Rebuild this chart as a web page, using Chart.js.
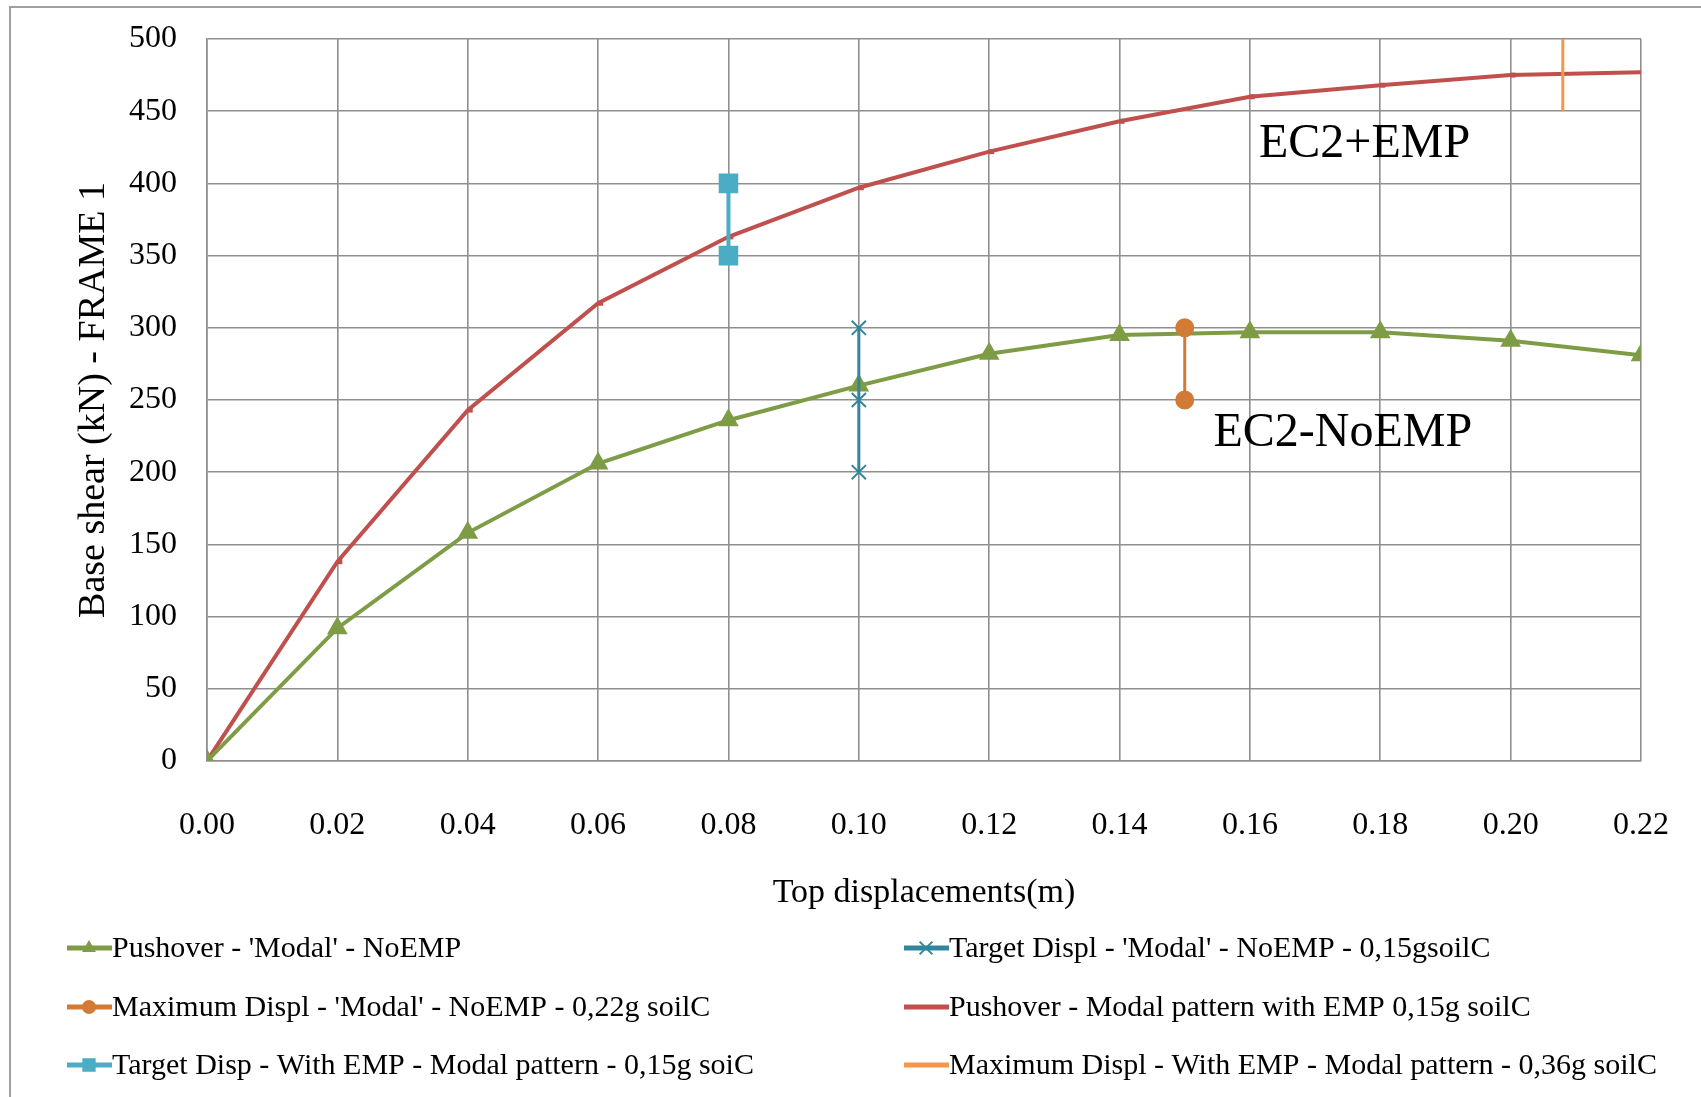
<!DOCTYPE html>
<html lang="en">
<head>
<meta charset="utf-8">
<title>Pushover curves - FRAME 1</title>
<script src="https://cdn.jsdelivr.net/npm/chart.js"></script>
<style>
  body { margin: 0; background: #fff; }
  #wrap { position: relative; width: 1701px; height: 1097px; overflow: hidden; }
  #frame { position: absolute; left: 9px; top: 6px; width: 1800px; height: 1200px;
           border-left: 2px solid #a0a0a0; border-top: 2px solid #a0a0a0; }
  canvas { position: absolute; left: 0; top: 0; }
</style>
</head>
<body>
<div id="wrap">
  <div id="frame"></div>
  <canvas id="pushoverChart" width="1701" height="1097"></canvas>
</div>
<script>
// top displacement steps (m)
const displ = [0, 0.02, 0.04, 0.06, 0.08, 0.10, 0.12, 0.14, 0.16, 0.18, 0.20, 0.22];
// base shear (kN)
const pushNoEmp = [0, 92, 158, 206, 236, 260, 282, 295, 297, 297, 291, 281];
const pushEmp = [0, 138, 243, 317, 363, 397, 422, 443, 460, 468, 475, 477];

// vertical markers
const targetNoEmpX = [0.10, 0.10, 0.10];
const targetNoEmpY = [200, 250, 300];
const maxNoEmpX = [0.15, 0.15];
const maxNoEmpY = [250, 300];
const targetEmpX = [0.08, 0.08];
const targetEmpY = [350, 400];
const maxEmpX = [0.208, 0.208];
const maxEmpY = [450, 500];

const xTicks = [0, 0.02, 0.04, 0.06, 0.08, 0.10, 0.12, 0.14, 0.16, 0.18, 0.20, 0.22];

// curve labels inside the plot
const noteText = ['EC2+EMP', 'EC2-NoEMP'];
const noteX = [0.1614, 0.1544];
const noteY = [427, 227];

const legendColX = [67, 904];
const legendRowY = [948, 1007, 1065];

const serif = '"Liberation Serif", "Times New Roman", serif';
const gridColor = '#8f8f8f';

const pts = (xs, ys) => xs.map((x, i) => ({ x: x, y: ys[i] }));

const legendPlugin = {
    id: 'twoColLegend',
    afterDraw(chart) {
        const ctx = chart.ctx;
        ctx.save();
        ctx.font = '30px ' + serif;
        ctx.textBaseline = 'middle';
        ctx.textAlign = 'left';
        chart.data.datasets.forEach((ds, i) => {
            const x0 = legendColX[i % 2];
            const y0 = legendRowY[Math.floor(i / 2)];
            ctx.strokeStyle = ds.borderColor;
            ctx.lineWidth = 5;
            ctx.beginPath();
            ctx.moveTo(x0, y0);
            ctx.lineTo(x0 + 45, y0);
            ctx.stroke();
            if (ds.legendMarker) {
                ctx.fillStyle = ds.pointBackgroundColor;
                ctx.strokeStyle = ds.pointBorderColor;
                ctx.lineWidth = 2;
                Chart.helpers.drawPoint(ctx, {
                    pointStyle: ds.pointStyle, radius: ds.legendMarker,
                    borderWidth: 2, rotation: 0
                }, x0 + 22, y0);
            }
            ctx.fillStyle = '#000';
            ctx.fillText(ds.label, x0 + 45, y0 + 1);
        });
        ctx.restore();
    }
};

const notesPlugin = {
    id: 'curveNotes',
    afterDatasetsDraw(chart) {
        const ctx = chart.ctx;
        const xs = chart.scales.x, ys = chart.scales.y;
        ctx.save();
        ctx.font = '48px ' + serif;
        ctx.fillStyle = '#000';
        ctx.textBaseline = 'middle';
        ctx.textAlign = 'left';
        noteText.forEach((t, i) => {
            ctx.fillText(t, xs.getPixelForValue(noteX[i]), ys.getPixelForValue(noteY[i]));
        });
        ctx.restore();
    }
};

const ctx = document.getElementById('pushoverChart').getContext('2d');
new Chart(ctx, {
    type: 'scatter',
    data: {
        datasets: [
            {
                label: "Pushover - 'Modal' - NoEMP",
                data: pts(displ, pushNoEmp),
                showLine: true,
                borderColor: '#7e9c45',
                backgroundColor: '#7e9c45',
                pointBackgroundColor: '#7e9c45',
                pointBorderColor: '#7e9c45',
                borderWidth: 4,
                pointStyle: 'triangle',
                pointRadius: 8,
                legendMarker: 6,
                order: 2
            },
            {
                label: "Target Displ - 'Modal' - NoEMP - 0,15gsoilC",
                data: pts(targetNoEmpX, targetNoEmpY),
                showLine: true,
                borderColor: '#31869d',
                backgroundColor: '#31869d',
                pointBackgroundColor: '#31869d',
                pointBorderColor: '#31869d',
                borderWidth: 3,
                pointStyle: 'crossRot',
                pointRadius: 10,
                pointBorderWidth: 2,
                legendMarker: 9,
                order: 1
            },
            {
                label: "Maximum Displ - 'Modal' - NoEMP - 0,22g soilC",
                data: pts(maxNoEmpX, maxNoEmpY),
                showLine: true,
                borderColor: '#d17b37',
                backgroundColor: '#d17b37',
                pointBackgroundColor: '#d17b37',
                pointBorderColor: '#d17b37',
                borderWidth: 3,
                pointStyle: 'circle',
                pointRadius: 8,
                legendMarker: 6,
                order: 1
            },
            {
                label: 'Pushover - Modal pattern with EMP 0,15g soilC',
                data: pts(displ, pushEmp),
                showLine: true,
                borderColor: '#c0504d',
                backgroundColor: '#c0504d',
                pointBackgroundColor: '#c0504d',
                pointBorderColor: '#c0504d',
                borderWidth: 4,
                pointStyle: 'dash',
                pointRadius: 5,
                pointBorderWidth: 5,
                legendMarker: 0,
                order: 3
            },
            {
                label: 'Target Disp - With EMP - Modal pattern - 0,15g soiC',
                data: pts(targetEmpX, targetEmpY),
                showLine: true,
                borderColor: '#4bacc6',
                backgroundColor: '#4bacc6',
                pointBackgroundColor: '#4bacc6',
                pointBorderColor: '#4bacc6',
                borderWidth: 4,
                pointStyle: 'rect',
                pointRadius: 11,
                legendMarker: 8,
                order: 1
            },
            {
                label: 'Maximum Displ - With EMP - Modal pattern - 0,36g soilC',
                data: pts(maxEmpX, maxEmpY),
                showLine: true,
                borderColor: '#f79646',
                backgroundColor: '#f79646',
                borderWidth: 3,
                pointRadius: 0,
                legendMarker: 0,
                order: 1
            }
        ]
    },
    options: {
        responsive: false,
        animation: false,
        layout: { padding: { top: 39, right: 60, left: 0, bottom: 0 } },
        plugins: {
            legend: { display: false },
            tooltip: { enabled: false }
        },
        scales: {
            x: {
                type: 'linear',
                min: 0,
                max: 0.22,
                afterBuildTicks: (scale) => { scale.ticks = xTicks.map(v => ({ value: v })); },
                afterFit: (scale) => { scale.height = 336; },
                ticks: {
                    padding: 0,
                    color: '#000',
                    font: { family: serif, size: 32 },
                    callback: (v) => Number(v).toFixed(2)
                },
                grid: { color: gridColor, lineWidth: 1.6, drawTicks: true, tickLength: 45, tickColor: 'rgba(0,0,0,0)' },
                border: { color: gridColor, width: 1.6 },
                title: {
                    display: true,
                    text: 'Top displacements(m)',
                    color: '#000',
                    font: { family: serif, size: 34 },
                    padding: { bottom: 184 }
                }
            },
            y: {
                min: 0,
                max: 500,
                afterFit: (scale) => { scale.width = 207; },
                ticks: {
                    stepSize: 50,
                    padding: 0,
                    color: '#000',
                    font: { family: serif, size: 32 }
                },
                grid: { color: gridColor, lineWidth: 1.6, drawTicks: true, tickLength: 30, tickColor: 'rgba(0,0,0,0)' },
                border: { color: gridColor, width: 1.6 },
                title: {
                    display: true,
                    text: 'Base shear (kN) - FRAME 1',
                    color: '#000',
                    font: { family: serif, size: 38 },
                    padding: { top: 71 }
                }
            }
        }
    },
    plugins: [notesPlugin, legendPlugin]
});
</script>
</body>
</html>
